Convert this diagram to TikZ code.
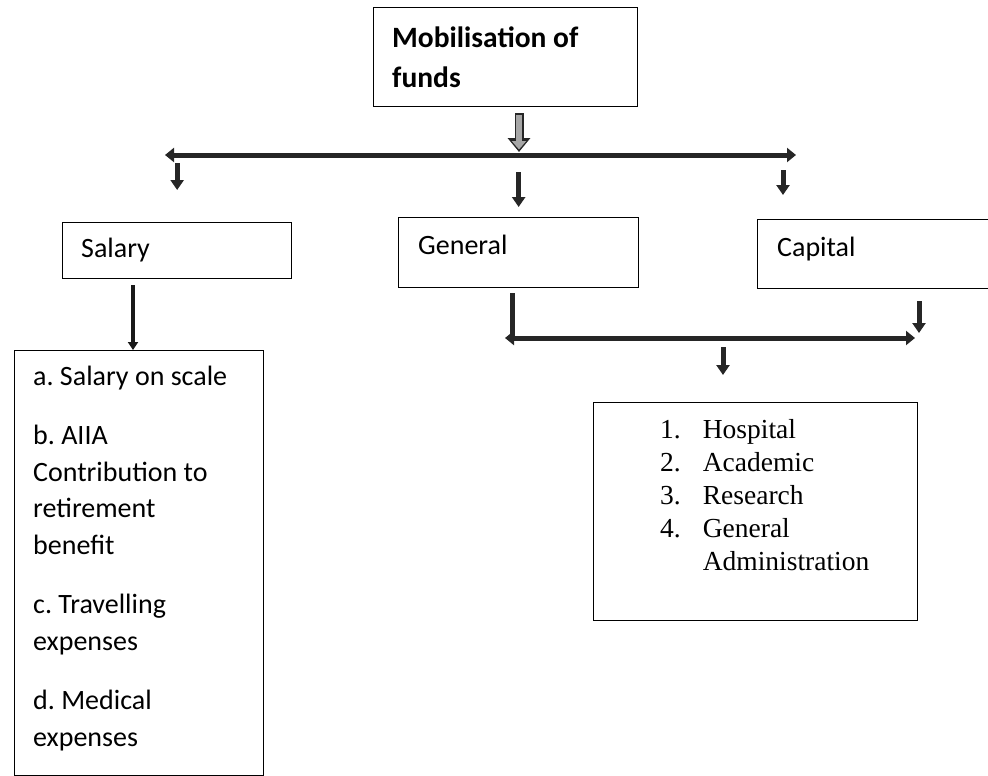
\documentclass[tikz,border=0pt]{standalone}
\usepackage{fontspec}
\setmainfont{Carlito}
\newfontfamily\listfont{Liberation Serif}
\usetikzlibrary{arrows.meta,positioning}
\frenchspacing

\tikzset{
  box/.style={draw, line width=1.3pt, anchor=north west, inner sep=0pt},
  lbl/.style={anchor=base west, inner sep=0pt, align=left, font=\fontsize{28}{36.5}\selectfont},
  barline/.style={line width=5pt, draw=black!85,
    {Triangle[width=14pt,length=9pt]}-{Triangle[width=14pt,length=9pt]}},
  downarrow/.style={line width=5pt, draw=black!85, -{Triangle[width=13pt,length=10pt]}},
  thinarrow/.style={line width=3.2pt, draw=black!90, -{Triangle[width=10pt,length=8pt]}},
  grayout/.style={line width=9pt, draw=black!85, -{Triangle[width=22pt,length=14pt]}},
  grayin/.style={line width=5.5pt, draw=gray!70, -{Triangle[width=14pt,length=8.5pt]}},
}

\begin{document}
\begin{tikzpicture}[x=1pt, y=-1pt]
  \useasboundingbox (0,0) rectangle (988,776);

  % boxes
  \node[box, minimum width=264pt, minimum height=99pt] (fund) at (373,7) {};
  \node[box, minimum width=229pt, minimum height=56pt] (salary) at (62,222) {};
  \node[box, minimum width=240pt, minimum height=70pt] (general) at (398,217) {};
  \node[box, minimum width=240pt, minimum height=69pt] (capital) at (757,219) {};
  \node[box, minimum width=249pt, minimum height=425pt] (saldetail) at (14,350) {};
  \node[box, minimum width=324pt, minimum height=218pt] (heads) at (593,402) {};

  % texts (base = last line)
  \node[lbl, font=\bfseries\fontsize{29.5}{40}\selectfont] (fundtxt)
    at ([shift={(19pt,-81pt)}]fund.north west) {Mobilisation of\\funds};
  \node[lbl] (salarytxt) at ([shift={(19pt,-35pt)}]salary.north west) {Salary};
  \node[lbl] (generaltxt) at ([shift={(20pt,-37pt)}]general.north west) {General};
  \node[lbl] (capitaltxt) at ([shift={(20pt,-37pt)}]capital.north west) {Capital};
  \node[lbl] (saldetailtxt) at ([shift={(19pt,-396pt)}]saldetail.north west)
    {a. Salary on scale\\[23pt]
     b. AIIA\\Contribution to\\retirement\\benefit\\[23pt]
     c. Travelling\\expenses\\[23pt]
     d. Medical\\expenses};
  \node[anchor=base west, inner sep=0pt, font=\listfont\fontsize{27.5}{33}\selectfont] (headstxt)
    at ([shift={(67pt,-36pt)}]heads.north west)
    {\begin{tabular}[t]{@{}r@{\hspace{22pt}}l@{}}
      1. & Hospital\\
      2. & Academic\\
      3. & Research\\
      4. & General\\
         & Administration
     \end{tabular}};

  % top split
  \coordinate (hub) at (519,152);
  \coordinate (barL) at (165,155);
  \coordinate (barR) at (796,155);
  \coordinate (capdrop) at (783,155);
  \draw[grayout] ([yshift=-6pt]fund.south -| hub) -- (hub);
  \draw[grayin] ([yshift=-7.5pt]fund.south -| hub) -- ([yshift=2.5pt]hub);
  \draw[barline] (barL) -- (barR);
  \draw[downarrow] ([yshift=-8pt]salary.north |- barL) -- ([yshift=32pt]salary.north);
  \draw[downarrow] ([yshift=-17pt]general.north |- barL) -- ([yshift=10pt]general.north);
  \draw[downarrow] ([yshift=-15pt]capdrop) -- ([yshift=24pt]capital.north -| capdrop);

  % salary items
  \draw[thinarrow] ([yshift=-6pt]salary.south -| 133,0) -- (saldetail.north -| 133,0);

  % general and capital join
  \coordinate (joinL) at (505,338);
  \coordinate (joinR) at (915,338);
  \draw[line width=5pt, draw=black!85] ([yshift=-5pt]general.south -| 512,0) -- (512,338);
  \draw[barline] (joinL) -- (joinR);
  \draw[downarrow] ([yshift=-12pt]capital.south -| 919,0) -- (919,333);
  \draw[downarrow] ([yshift=-9pt]joinL -| 723,0) -- ([yshift=27pt]heads.north -| 723,0);
\end{tikzpicture}
\end{document}
